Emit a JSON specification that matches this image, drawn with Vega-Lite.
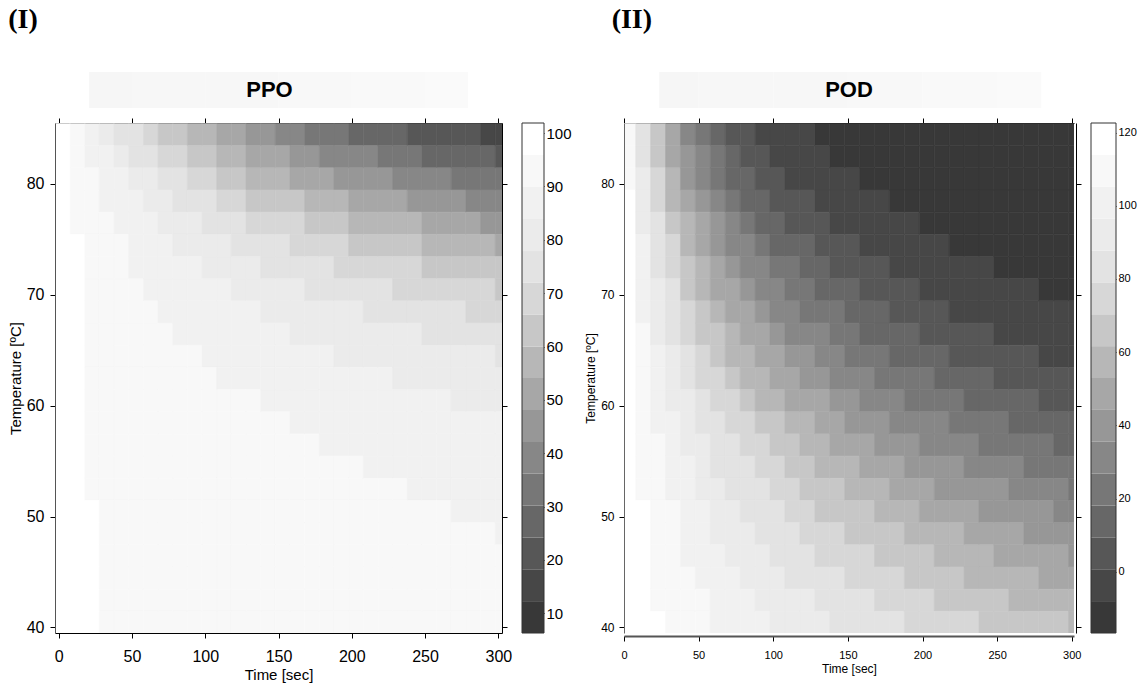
{
 "$schema": "https://vega.github.io/schema/vega-lite/v6.json",
 "background": "white",
 "padding": {"left": 8, "top": 6, "right": 5, "bottom": 5},
 "config": {"font": "Liberation Sans", "view": {"stroke": null}, "axis": {"grid": false, "labelColor": "black", "titleColor": "black", "tickColor": "black", "domainColor": "black", "titleFontWeight": "normal", "labelFlush": false, "labelOverlap": false}},
 "datasets": {
  "grid": [
{"s":2.5,"c":84.5,"ppo":98.5,"pod":111.8},{"s":12.5,"c":84.5,"ppo":92.8,"pod":83.8},{"s":22.5,"c":84.5,"ppo":87.4,"pod":62.0},{"s":32.5,"c":84.5,"ppo":82.3,"pod":45.1},{"s":42.5,"c":84.5,"ppo":77.6,"pod":31.9},{"s":52.5,"c":84.5,"ppo":73.1,"pod":21.7},{"s":62.5,"c":84.5,"ppo":68.9,"pod":13.7},{"s":72.5,"c":84.5,"ppo":64.9,"pod":7.5},{"s":82.5,"c":84.5,"ppo":61.1,"pod":2.7},{"s":92.5,"c":84.5,"ppo":57.6,"pod":-1.0},{"s":102.5,"c":84.5,"ppo":54.3,"pod":-3.9},{"s":112.5,"c":84.5,"ppo":51.1,"pod":-6.1},{"s":122.5,"c":84.5,"ppo":48.2,"pod":-7.9},{"s":132.5,"c":84.5,"ppo":45.4,"pod":-9.3},{"s":142.5,"c":84.5,"ppo":42.8,"pod":-10.3},{"s":152.5,"c":84.5,"ppo":40.3,"pod":-11.1},{"s":162.5,"c":84.5,"ppo":38.0,"pod":-11.8},{"s":172.5,"c":84.5,"ppo":35.8,"pod":-12.3},{"s":182.5,"c":84.5,"ppo":33.7,"pod":-12.7},{"s":192.5,"c":84.5,"ppo":31.7,"pod":-13.0},{"s":202.5,"c":84.5,"ppo":29.9,"pod":-13.2},{"s":212.5,"c":84.5,"ppo":28.2,"pod":-13.4},{"s":222.5,"c":84.5,"ppo":26.6,"pod":-13.5},{"s":232.5,"c":84.5,"ppo":25.0,"pod":-13.6},{"s":242.5,"c":84.5,"ppo":23.6,"pod":-13.7},{"s":252.5,"c":84.5,"ppo":22.2,"pod":-13.8},{"s":262.5,"c":84.5,"ppo":20.9,"pod":-13.8},{"s":272.5,"c":84.5,"ppo":19.7,"pod":-13.9},{"s":282.5,"c":84.5,"ppo":18.6,"pod":-13.9},{"s":292.5,"c":84.5,"ppo":17.5,"pod":-13.9},{"s":302.5,"c":84.5,"ppo":16.5,"pod":-13.9},
{"s":2.5,"c":82.5,"ppo":98.7,"pod":112.7},{"s":12.5,"c":82.5,"ppo":93.9,"pod":87.2},{"s":22.5,"c":82.5,"ppo":89.4,"pod":66.9},{"s":32.5,"c":82.5,"ppo":85.2,"pod":50.6},{"s":42.5,"c":82.5,"ppo":81.3,"pod":37.6},{"s":52.5,"c":82.5,"ppo":77.5,"pod":27.2},{"s":62.5,"c":82.5,"ppo":73.9,"pod":19.0},{"s":72.5,"c":82.5,"ppo":70.5,"pod":12.3},{"s":82.5,"c":82.5,"ppo":67.2,"pod":7.0},{"s":92.5,"c":82.5,"ppo":64.1,"pod":2.8},{"s":102.5,"c":82.5,"ppo":61.1,"pod":-0.6},{"s":112.5,"c":82.5,"ppo":58.3,"pod":-3.3},{"s":122.5,"c":82.5,"ppo":55.5,"pod":-5.4},{"s":132.5,"c":82.5,"ppo":53.0,"pod":-7.2},{"s":142.5,"c":82.5,"ppo":50.5,"pod":-8.5},{"s":152.5,"c":82.5,"ppo":48.2,"pod":-9.6},{"s":162.5,"c":82.5,"ppo":45.9,"pod":-10.5},{"s":172.5,"c":82.5,"ppo":43.8,"pod":-11.2},{"s":182.5,"c":82.5,"ppo":41.8,"pod":-11.8},{"s":192.5,"c":82.5,"ppo":39.8,"pod":-12.2},{"s":202.5,"c":82.5,"ppo":38.0,"pod":-12.6},{"s":212.5,"c":82.5,"ppo":36.2,"pod":-12.9},{"s":222.5,"c":82.5,"ppo":34.5,"pod":-13.1},{"s":232.5,"c":82.5,"ppo":32.9,"pod":-13.3},{"s":242.5,"c":82.5,"ppo":31.4,"pod":-13.4},{"s":252.5,"c":82.5,"ppo":29.9,"pod":-13.5},{"s":262.5,"c":82.5,"ppo":28.5,"pod":-13.6},{"s":272.5,"c":82.5,"ppo":27.2,"pod":-13.7},{"s":282.5,"c":82.5,"ppo":25.9,"pod":-13.8},{"s":292.5,"c":82.5,"ppo":24.7,"pod":-13.8},{"s":302.5,"c":82.5,"ppo":23.6,"pod":-13.9},
{"s":2.5,"c":80.5,"ppo":98.9,"pod":113.5},{"s":12.5,"c":80.5,"ppo":94.8,"pod":90.4},{"s":22.5,"c":80.5,"ppo":91.0,"pod":71.5},{"s":32.5,"c":80.5,"ppo":87.6,"pod":56.0},{"s":42.5,"c":80.5,"ppo":84.3,"pod":43.3},{"s":52.5,"c":80.5,"ppo":81.1,"pod":32.9},{"s":62.5,"c":80.5,"ppo":78.1,"pod":24.4},{"s":72.5,"c":80.5,"ppo":75.2,"pod":17.5},{"s":82.5,"c":80.5,"ppo":72.4,"pod":11.8},{"s":92.5,"c":80.5,"ppo":69.7,"pod":7.1},{"s":102.5,"c":80.5,"ppo":67.1,"pod":3.3},{"s":112.5,"c":80.5,"ppo":64.6,"pod":0.2},{"s":122.5,"c":80.5,"ppo":62.2,"pod":-2.4},{"s":132.5,"c":80.5,"ppo":59.8,"pod":-4.5},{"s":142.5,"c":80.5,"ppo":57.6,"pod":-6.2},{"s":152.5,"c":80.5,"ppo":55.5,"pod":-7.6},{"s":162.5,"c":80.5,"ppo":53.4,"pod":-8.8},{"s":172.5,"c":80.5,"ppo":51.4,"pod":-9.7},{"s":182.5,"c":80.5,"ppo":49.5,"pod":-10.5},{"s":192.5,"c":80.5,"ppo":47.6,"pod":-11.1},{"s":202.5,"c":80.5,"ppo":45.8,"pod":-11.7},{"s":212.5,"c":80.5,"ppo":44.1,"pod":-12.1},{"s":222.5,"c":80.5,"ppo":42.5,"pod":-12.4},{"s":232.5,"c":80.5,"ppo":40.9,"pod":-12.7},{"s":242.5,"c":80.5,"ppo":39.4,"pod":-12.9},{"s":252.5,"c":80.5,"ppo":37.9,"pod":-13.1},{"s":262.5,"c":80.5,"ppo":36.5,"pod":-13.3},{"s":272.5,"c":80.5,"ppo":35.1,"pod":-13.4},{"s":282.5,"c":80.5,"ppo":33.8,"pod":-13.5},{"s":292.5,"c":80.5,"ppo":32.5,"pod":-13.6},{"s":302.5,"c":80.5,"ppo":31.3,"pod":-13.7},
{"s":2.5,"c":78.5,"ppo":99.0,"pod":114.2},{"s":12.5,"c":78.5,"ppo":95.4,"pod":93.3},{"s":22.5,"c":78.5,"ppo":92.3,"pod":75.8},{"s":32.5,"c":78.5,"ppo":89.4,"pod":61.2},{"s":42.5,"c":78.5,"ppo":86.7,"pod":48.9},{"s":52.5,"c":78.5,"ppo":84.1,"pod":38.7},{"s":62.5,"c":78.5,"ppo":81.6,"pod":30.1},{"s":72.5,"c":78.5,"ppo":79.1,"pod":22.9},{"s":82.5,"c":78.5,"ppo":76.7,"pod":16.9},{"s":92.5,"c":78.5,"ppo":74.4,"pod":11.8},{"s":102.5,"c":78.5,"ppo":72.2,"pod":7.6},{"s":112.5,"c":78.5,"ppo":70.0,"pod":4.1},{"s":122.5,"c":78.5,"ppo":67.9,"pod":1.2},{"s":132.5,"c":78.5,"ppo":65.9,"pod":-1.3},{"s":142.5,"c":78.5,"ppo":63.9,"pod":-3.4},{"s":152.5,"c":78.5,"ppo":62.0,"pod":-5.1},{"s":162.5,"c":78.5,"ppo":60.1,"pod":-6.6},{"s":172.5,"c":78.5,"ppo":58.3,"pod":-7.8},{"s":182.5,"c":78.5,"ppo":56.5,"pod":-8.8},{"s":192.5,"c":78.5,"ppo":54.8,"pod":-9.6},{"s":202.5,"c":78.5,"ppo":53.2,"pod":-10.3},{"s":212.5,"c":78.5,"ppo":51.6,"pod":-10.9},{"s":222.5,"c":78.5,"ppo":50.0,"pod":-11.4},{"s":232.5,"c":78.5,"ppo":48.5,"pod":-11.9},{"s":242.5,"c":78.5,"ppo":47.1,"pod":-12.2},{"s":252.5,"c":78.5,"ppo":45.7,"pod":-12.5},{"s":262.5,"c":78.5,"ppo":44.3,"pod":-12.7},{"s":272.5,"c":78.5,"ppo":43.0,"pod":-13.0},{"s":282.5,"c":78.5,"ppo":41.7,"pod":-13.1},{"s":292.5,"c":78.5,"ppo":40.4,"pod":-13.3},{"s":302.5,"c":78.5,"ppo":39.2,"pod":-13.4},
{"s":2.5,"c":76.5,"ppo":99.0,"pod":114.8},{"s":12.5,"c":76.5,"ppo":95.8,"pod":95.9},{"s":22.5,"c":76.5,"ppo":93.2,"pod":79.8},{"s":32.5,"c":76.5,"ppo":90.8,"pod":66.1},{"s":42.5,"c":76.5,"ppo":88.6,"pod":54.4},{"s":52.5,"c":76.5,"ppo":86.4,"pod":44.3},{"s":62.5,"c":76.5,"ppo":84.3,"pod":35.8},{"s":72.5,"c":76.5,"ppo":82.3,"pod":28.5},{"s":82.5,"c":76.5,"ppo":80.3,"pod":22.3},{"s":92.5,"c":76.5,"ppo":78.4,"pod":17.0},{"s":102.5,"c":76.5,"ppo":76.5,"pod":12.4},{"s":112.5,"c":76.5,"ppo":74.6,"pod":8.6},{"s":122.5,"c":76.5,"ppo":72.8,"pod":5.2},{"s":132.5,"c":76.5,"ppo":71.1,"pod":2.4},{"s":142.5,"c":76.5,"ppo":69.3,"pod":0.0},{"s":152.5,"c":76.5,"ppo":67.7,"pod":-2.0},{"s":162.5,"c":76.5,"ppo":66.0,"pod":-3.8},{"s":172.5,"c":76.5,"ppo":64.4,"pod":-5.3},{"s":182.5,"c":76.5,"ppo":62.9,"pod":-6.6},{"s":192.5,"c":76.5,"ppo":61.3,"pod":-7.6},{"s":202.5,"c":76.5,"ppo":59.9,"pod":-8.6},{"s":212.5,"c":76.5,"ppo":58.4,"pod":-9.4},{"s":222.5,"c":76.5,"ppo":57.0,"pod":-10.1},{"s":232.5,"c":76.5,"ppo":55.6,"pod":-10.6},{"s":242.5,"c":76.5,"ppo":54.3,"pod":-11.1},{"s":252.5,"c":76.5,"ppo":53.0,"pod":-11.5},{"s":262.5,"c":76.5,"ppo":51.7,"pod":-11.9},{"s":272.5,"c":76.5,"ppo":50.4,"pod":-12.2},{"s":282.5,"c":76.5,"ppo":49.2,"pod":-12.5},{"s":292.5,"c":76.5,"ppo":48.0,"pod":-12.7},{"s":302.5,"c":76.5,"ppo":46.9,"pod":-12.9},
{"s":2.5,"c":74.5,"ppo":99.1,"pod":115.4},{"s":12.5,"c":74.5,"ppo":96.1,"pod":98.3},{"s":22.5,"c":74.5,"ppo":93.9,"pod":83.6},{"s":32.5,"c":74.5,"ppo":91.9,"pod":70.7},{"s":42.5,"c":74.5,"ppo":90.0,"pod":59.6},{"s":52.5,"c":74.5,"ppo":88.3,"pod":49.9},{"s":62.5,"c":74.5,"ppo":86.5,"pod":41.5},{"s":72.5,"c":74.5,"ppo":84.8,"pod":34.2},{"s":82.5,"c":74.5,"ppo":83.2,"pod":27.9},{"s":92.5,"c":74.5,"ppo":81.5,"pod":22.4},{"s":102.5,"c":74.5,"ppo":80.0,"pod":17.6},{"s":112.5,"c":74.5,"ppo":78.4,"pod":13.4},{"s":122.5,"c":74.5,"ppo":76.9,"pod":9.8},{"s":132.5,"c":74.5,"ppo":75.4,"pod":6.7},{"s":142.5,"c":74.5,"ppo":73.9,"pod":4.0},{"s":152.5,"c":74.5,"ppo":72.4,"pod":1.6},{"s":162.5,"c":74.5,"ppo":71.0,"pod":-0.5},{"s":172.5,"c":74.5,"ppo":69.6,"pod":-2.2},{"s":182.5,"c":74.5,"ppo":68.3,"pod":-3.8},{"s":192.5,"c":74.5,"ppo":66.9,"pod":-5.1},{"s":202.5,"c":74.5,"ppo":65.6,"pod":-6.3},{"s":212.5,"c":74.5,"ppo":64.3,"pod":-7.3},{"s":222.5,"c":74.5,"ppo":63.1,"pod":-8.2},{"s":232.5,"c":74.5,"ppo":61.9,"pod":-9.0},{"s":242.5,"c":74.5,"ppo":60.6,"pod":-9.6},{"s":252.5,"c":74.5,"ppo":59.5,"pod":-10.2},{"s":262.5,"c":74.5,"ppo":58.3,"pod":-10.7},{"s":272.5,"c":74.5,"ppo":57.2,"pod":-11.1},{"s":282.5,"c":74.5,"ppo":56.0,"pod":-11.5},{"s":292.5,"c":74.5,"ppo":54.9,"pod":-11.8},{"s":302.5,"c":74.5,"ppo":53.9,"pod":-12.1},
{"s":2.5,"c":72.5,"ppo":99.1,"pod":115.9},{"s":12.5,"c":72.5,"ppo":96.3,"pod":100.5},{"s":22.5,"c":72.5,"ppo":94.3,"pod":87.0},{"s":32.5,"c":72.5,"ppo":92.7,"pod":75.1},{"s":42.5,"c":72.5,"ppo":91.1,"pod":64.6},{"s":52.5,"c":72.5,"ppo":89.7,"pod":55.3},{"s":62.5,"c":72.5,"ppo":88.2,"pod":47.1},{"s":72.5,"c":72.5,"ppo":86.8,"pod":39.9},{"s":82.5,"c":72.5,"ppo":85.5,"pod":33.6},{"s":92.5,"c":72.5,"ppo":84.1,"pod":27.9},{"s":102.5,"c":72.5,"ppo":82.8,"pod":23.0},{"s":112.5,"c":72.5,"ppo":81.5,"pod":18.6},{"s":122.5,"c":72.5,"ppo":80.2,"pod":14.8},{"s":132.5,"c":72.5,"ppo":78.9,"pod":11.4},{"s":142.5,"c":72.5,"ppo":77.7,"pod":8.4},{"s":152.5,"c":72.5,"ppo":76.4,"pod":5.7},{"s":162.5,"c":72.5,"ppo":75.2,"pod":3.4},{"s":172.5,"c":72.5,"ppo":74.0,"pod":1.4},{"s":182.5,"c":72.5,"ppo":72.9,"pod":-0.5},{"s":192.5,"c":72.5,"ppo":71.7,"pod":-2.1},{"s":202.5,"c":72.5,"ppo":70.6,"pod":-3.5},{"s":212.5,"c":72.5,"ppo":69.5,"pod":-4.7},{"s":222.5,"c":72.5,"ppo":68.4,"pod":-5.8},{"s":232.5,"c":72.5,"ppo":67.3,"pod":-6.8},{"s":242.5,"c":72.5,"ppo":66.2,"pod":-7.6},{"s":252.5,"c":72.5,"ppo":65.2,"pod":-8.4},{"s":262.5,"c":72.5,"ppo":64.1,"pod":-9.0},{"s":272.5,"c":72.5,"ppo":63.1,"pod":-9.6},{"s":282.5,"c":72.5,"ppo":62.1,"pod":-10.1},{"s":292.5,"c":72.5,"ppo":61.1,"pod":-10.6},{"s":302.5,"c":72.5,"ppo":60.2,"pod":-11.0},
{"s":2.5,"c":70.5,"ppo":99.1,"pod":116.3},{"s":12.5,"c":70.5,"ppo":96.4,"pod":102.5},{"s":22.5,"c":70.5,"ppo":94.6,"pod":90.2},{"s":32.5,"c":70.5,"ppo":93.2,"pod":79.2},{"s":42.5,"c":70.5,"ppo":92.0,"pod":69.3},{"s":52.5,"c":70.5,"ppo":90.7,"pod":60.5},{"s":62.5,"c":70.5,"ppo":89.6,"pod":52.6},{"s":72.5,"c":70.5,"ppo":88.4,"pod":45.6},{"s":82.5,"c":70.5,"ppo":87.3,"pod":39.3},{"s":92.5,"c":70.5,"ppo":86.2,"pod":33.7},{"s":102.5,"c":70.5,"ppo":85.0,"pod":28.6},{"s":112.5,"c":70.5,"ppo":84.0,"pod":24.1},{"s":122.5,"c":70.5,"ppo":82.9,"pod":20.1},{"s":132.5,"c":70.5,"ppo":81.8,"pod":16.5},{"s":142.5,"c":70.5,"ppo":80.8,"pod":13.3},{"s":152.5,"c":70.5,"ppo":79.7,"pod":10.4},{"s":162.5,"c":70.5,"ppo":78.7,"pod":7.8},{"s":172.5,"c":70.5,"ppo":77.7,"pod":5.5},{"s":182.5,"c":70.5,"ppo":76.7,"pod":3.4},{"s":192.5,"c":70.5,"ppo":75.7,"pod":1.6},{"s":202.5,"c":70.5,"ppo":74.7,"pod":-0.1},{"s":212.5,"c":70.5,"ppo":73.8,"pod":-1.5},{"s":222.5,"c":70.5,"ppo":72.8,"pod":-2.9},{"s":232.5,"c":70.5,"ppo":71.9,"pod":-4.0},{"s":242.5,"c":70.5,"ppo":70.9,"pod":-5.1},{"s":252.5,"c":70.5,"ppo":70.0,"pod":-6.0},{"s":262.5,"c":70.5,"ppo":69.1,"pod":-6.9},{"s":272.5,"c":70.5,"ppo":68.2,"pod":-7.6},{"s":282.5,"c":70.5,"ppo":67.4,"pod":-8.3},{"s":292.5,"c":70.5,"ppo":66.5,"pod":-8.9},{"s":302.5,"c":70.5,"ppo":65.6,"pod":-9.4},
{"s":2.5,"c":68.5,"ppo":99.0,"pod":116.7},{"s":12.5,"c":68.5,"ppo":96.4,"pod":104.3},{"s":22.5,"c":68.5,"ppo":94.8,"pod":93.1},{"s":32.5,"c":68.5,"ppo":93.6,"pod":83.0},{"s":42.5,"c":68.5,"ppo":92.5,"pod":73.8},{"s":52.5,"c":68.5,"ppo":91.5,"pod":65.5},{"s":62.5,"c":68.5,"ppo":90.5,"pod":57.9},{"s":72.5,"c":68.5,"ppo":89.6,"pod":51.1},{"s":82.5,"c":68.5,"ppo":88.7,"pod":45.0},{"s":92.5,"c":68.5,"ppo":87.7,"pod":39.4},{"s":102.5,"c":68.5,"ppo":86.8,"pod":34.3},{"s":112.5,"c":68.5,"ppo":85.9,"pod":29.7},{"s":122.5,"c":68.5,"ppo":85.0,"pod":25.6},{"s":132.5,"c":68.5,"ppo":84.1,"pod":21.8},{"s":142.5,"c":68.5,"ppo":83.2,"pod":18.5},{"s":152.5,"c":68.5,"ppo":82.4,"pod":15.4},{"s":162.5,"c":68.5,"ppo":81.5,"pod":12.6},{"s":172.5,"c":68.5,"ppo":80.6,"pod":10.1},{"s":182.5,"c":68.5,"ppo":79.8,"pod":7.8},{"s":192.5,"c":68.5,"ppo":79.0,"pod":5.7},{"s":202.5,"c":68.5,"ppo":78.1,"pod":3.9},{"s":212.5,"c":68.5,"ppo":77.3,"pod":2.2},{"s":222.5,"c":68.5,"ppo":76.5,"pod":0.6},{"s":232.5,"c":68.5,"ppo":75.7,"pod":-0.7},{"s":242.5,"c":68.5,"ppo":74.9,"pod":-2.0},{"s":252.5,"c":68.5,"ppo":74.1,"pod":-3.1},{"s":262.5,"c":68.5,"ppo":73.3,"pod":-4.2},{"s":272.5,"c":68.5,"ppo":72.6,"pod":-5.1},{"s":282.5,"c":68.5,"ppo":71.8,"pod":-5.9},{"s":292.5,"c":68.5,"ppo":71.1,"pod":-6.7},{"s":302.5,"c":68.5,"ppo":70.3,"pod":-7.4},
{"s":2.5,"c":66.5,"ppo":99.0,"pod":117.1},{"s":12.5,"c":66.5,"ppo":96.3,"pod":105.9},{"s":22.5,"c":66.5,"ppo":94.8,"pod":95.8},{"s":32.5,"c":66.5,"ppo":93.8,"pod":86.5},{"s":42.5,"c":66.5,"ppo":92.9,"pod":78.0},{"s":52.5,"c":66.5,"ppo":92.0,"pod":70.2},{"s":62.5,"c":66.5,"ppo":91.2,"pod":63.0},{"s":72.5,"c":66.5,"ppo":90.4,"pod":56.5},{"s":82.5,"c":66.5,"ppo":89.7,"pod":50.5},{"s":92.5,"c":66.5,"ppo":88.9,"pod":45.0},{"s":102.5,"c":66.5,"ppo":88.1,"pod":40.0},{"s":112.5,"c":66.5,"ppo":87.4,"pod":35.5},{"s":122.5,"c":66.5,"ppo":86.6,"pod":31.3},{"s":132.5,"c":66.5,"ppo":85.9,"pod":27.4},{"s":142.5,"c":66.5,"ppo":85.1,"pod":23.9},{"s":152.5,"c":66.5,"ppo":84.4,"pod":20.7},{"s":162.5,"c":66.5,"ppo":83.7,"pod":17.8},{"s":172.5,"c":66.5,"ppo":82.9,"pod":15.1},{"s":182.5,"c":66.5,"ppo":82.2,"pod":12.6},{"s":192.5,"c":66.5,"ppo":81.5,"pod":10.4},{"s":202.5,"c":66.5,"ppo":80.8,"pod":8.3},{"s":212.5,"c":66.5,"ppo":80.1,"pod":6.4},{"s":222.5,"c":66.5,"ppo":79.4,"pod":4.7},{"s":232.5,"c":66.5,"ppo":78.8,"pod":3.1},{"s":242.5,"c":66.5,"ppo":78.1,"pod":1.6},{"s":252.5,"c":66.5,"ppo":77.4,"pod":0.3},{"s":262.5,"c":66.5,"ppo":76.7,"pod":-0.9},{"s":272.5,"c":66.5,"ppo":76.1,"pod":-2.0},{"s":282.5,"c":66.5,"ppo":75.4,"pod":-3.0},{"s":292.5,"c":66.5,"ppo":74.8,"pod":-4.0},{"s":302.5,"c":66.5,"ppo":74.1,"pod":-4.8},
{"s":2.5,"c":64.5,"ppo":98.9,"pod":117.4},{"s":12.5,"c":64.5,"ppo":96.3,"pod":107.4},{"s":22.5,"c":64.5,"ppo":94.9,"pod":98.2},{"s":32.5,"c":64.5,"ppo":94.0,"pod":89.7},{"s":42.5,"c":64.5,"ppo":93.2,"pod":81.8},{"s":52.5,"c":64.5,"ppo":92.5,"pod":74.6},{"s":62.5,"c":64.5,"ppo":91.8,"pod":67.8},{"s":72.5,"c":64.5,"ppo":91.2,"pod":61.6},{"s":82.5,"c":64.5,"ppo":90.5,"pod":55.9},{"s":92.5,"c":64.5,"ppo":89.9,"pod":50.6},{"s":102.5,"c":64.5,"ppo":89.2,"pod":45.7},{"s":112.5,"c":64.5,"ppo":88.6,"pod":41.2},{"s":122.5,"c":64.5,"ppo":88.0,"pod":37.0},{"s":132.5,"c":64.5,"ppo":87.3,"pod":33.1},{"s":142.5,"c":64.5,"ppo":86.7,"pod":29.5},{"s":152.5,"c":64.5,"ppo":86.1,"pod":26.2},{"s":162.5,"c":64.5,"ppo":85.5,"pod":23.2},{"s":172.5,"c":64.5,"ppo":84.9,"pod":20.4},{"s":182.5,"c":64.5,"ppo":84.3,"pod":17.8},{"s":192.5,"c":64.5,"ppo":83.7,"pod":15.4},{"s":202.5,"c":64.5,"ppo":83.1,"pod":13.1},{"s":212.5,"c":64.5,"ppo":82.5,"pod":11.1},{"s":222.5,"c":64.5,"ppo":81.9,"pod":9.2},{"s":232.5,"c":64.5,"ppo":81.3,"pod":7.4},{"s":242.5,"c":64.5,"ppo":80.8,"pod":5.8},{"s":252.5,"c":64.5,"ppo":80.2,"pod":4.3},{"s":262.5,"c":64.5,"ppo":79.6,"pod":2.9},{"s":272.5,"c":64.5,"ppo":79.0,"pod":1.6},{"s":282.5,"c":64.5,"ppo":78.5,"pod":0.4},{"s":292.5,"c":64.5,"ppo":77.9,"pod":-0.7},{"s":302.5,"c":64.5,"ppo":77.4,"pod":-1.7},
{"s":2.5,"c":62.5,"ppo":99.0,"pod":117.7},{"s":12.5,"c":62.5,"ppo":96.4,"pod":108.7},{"s":22.5,"c":62.5,"ppo":95.2,"pod":100.4},{"s":32.5,"c":62.5,"ppo":94.3,"pod":92.7},{"s":42.5,"c":62.5,"ppo":93.7,"pod":85.4},{"s":52.5,"c":62.5,"ppo":93.1,"pod":78.7},{"s":62.5,"c":62.5,"ppo":92.5,"pod":72.4},{"s":72.5,"c":62.5,"ppo":92.0,"pod":66.5},{"s":82.5,"c":62.5,"ppo":91.4,"pod":61.1},{"s":92.5,"c":62.5,"ppo":90.9,"pod":56.0},{"s":102.5,"c":62.5,"ppo":90.3,"pod":51.2},{"s":112.5,"c":62.5,"ppo":89.8,"pod":46.8},{"s":122.5,"c":62.5,"ppo":89.3,"pod":42.7},{"s":132.5,"c":62.5,"ppo":88.8,"pod":38.8},{"s":142.5,"c":62.5,"ppo":88.2,"pod":35.3},{"s":152.5,"c":62.5,"ppo":87.7,"pod":31.9},{"s":162.5,"c":62.5,"ppo":87.2,"pod":28.8},{"s":172.5,"c":62.5,"ppo":86.7,"pod":25.9},{"s":182.5,"c":62.5,"ppo":86.2,"pod":23.2},{"s":192.5,"c":62.5,"ppo":85.6,"pod":20.7},{"s":202.5,"c":62.5,"ppo":85.1,"pod":18.3},{"s":212.5,"c":62.5,"ppo":84.6,"pod":16.1},{"s":222.5,"c":62.5,"ppo":84.1,"pod":14.1},{"s":232.5,"c":62.5,"ppo":83.6,"pod":12.2},{"s":242.5,"c":62.5,"ppo":83.1,"pod":10.4},{"s":252.5,"c":62.5,"ppo":82.7,"pod":8.8},{"s":262.5,"c":62.5,"ppo":82.2,"pod":7.2},{"s":272.5,"c":62.5,"ppo":81.7,"pod":5.8},{"s":282.5,"c":62.5,"ppo":81.2,"pod":4.4},{"s":292.5,"c":62.5,"ppo":80.7,"pod":3.2},{"s":302.5,"c":62.5,"ppo":80.2,"pod":2.0},
{"s":2.5,"c":60.5,"ppo":99.0,"pod":117.9},{"s":12.5,"c":60.5,"ppo":96.6,"pod":109.9},{"s":22.5,"c":60.5,"ppo":95.3,"pod":102.4},{"s":32.5,"c":60.5,"ppo":94.6,"pod":95.4},{"s":42.5,"c":60.5,"ppo":94.0,"pod":88.7},{"s":52.5,"c":60.5,"ppo":93.5,"pod":82.5},{"s":62.5,"c":60.5,"ppo":93.0,"pod":76.7},{"s":72.5,"c":60.5,"ppo":92.6,"pod":71.2},{"s":82.5,"c":60.5,"ppo":92.1,"pod":66.0},{"s":92.5,"c":60.5,"ppo":91.7,"pod":61.2},{"s":102.5,"c":60.5,"ppo":91.2,"pod":56.6},{"s":112.5,"c":60.5,"ppo":90.8,"pod":52.3},{"s":122.5,"c":60.5,"ppo":90.3,"pod":48.3},{"s":132.5,"c":60.5,"ppo":89.9,"pod":44.5},{"s":142.5,"c":60.5,"ppo":89.4,"pod":41.0},{"s":152.5,"c":60.5,"ppo":89.0,"pod":37.6},{"s":162.5,"c":60.5,"ppo":88.5,"pod":34.5},{"s":172.5,"c":60.5,"ppo":88.1,"pod":31.6},{"s":182.5,"c":60.5,"ppo":87.6,"pod":28.8},{"s":192.5,"c":60.5,"ppo":87.2,"pod":26.2},{"s":202.5,"c":60.5,"ppo":86.8,"pod":23.8},{"s":212.5,"c":60.5,"ppo":86.3,"pod":21.5},{"s":222.5,"c":60.5,"ppo":85.9,"pod":19.3},{"s":232.5,"c":60.5,"ppo":85.5,"pod":17.3},{"s":242.5,"c":60.5,"ppo":85.0,"pod":15.4},{"s":252.5,"c":60.5,"ppo":84.6,"pod":13.6},{"s":262.5,"c":60.5,"ppo":84.2,"pod":12.0},{"s":272.5,"c":60.5,"ppo":83.8,"pod":10.4},{"s":282.5,"c":60.5,"ppo":83.4,"pod":8.9},{"s":292.5,"c":60.5,"ppo":82.9,"pod":7.5},{"s":302.5,"c":60.5,"ppo":82.5,"pod":6.2},
{"s":2.5,"c":58.5,"ppo":99.0,"pod":118.1},{"s":12.5,"c":58.5,"ppo":96.6,"pod":111.0},{"s":22.5,"c":58.5,"ppo":95.5,"pod":104.2},{"s":32.5,"c":58.5,"ppo":94.9,"pod":97.8},{"s":42.5,"c":58.5,"ppo":94.4,"pod":91.8},{"s":52.5,"c":58.5,"ppo":93.9,"pod":86.1},{"s":62.5,"c":58.5,"ppo":93.5,"pod":80.6},{"s":72.5,"c":58.5,"ppo":93.1,"pod":75.5},{"s":82.5,"c":58.5,"ppo":92.7,"pod":70.7},{"s":92.5,"c":58.5,"ppo":92.3,"pod":66.1},{"s":102.5,"c":58.5,"ppo":91.9,"pod":61.7},{"s":112.5,"c":58.5,"ppo":91.5,"pod":57.6},{"s":122.5,"c":58.5,"ppo":91.2,"pod":53.8},{"s":132.5,"c":58.5,"ppo":90.8,"pod":50.1},{"s":142.5,"c":58.5,"ppo":90.4,"pod":46.6},{"s":152.5,"c":58.5,"ppo":90.0,"pod":43.3},{"s":162.5,"c":58.5,"ppo":89.6,"pod":40.2},{"s":172.5,"c":58.5,"ppo":89.3,"pod":37.3},{"s":182.5,"c":58.5,"ppo":88.9,"pod":34.5},{"s":192.5,"c":58.5,"ppo":88.5,"pod":31.9},{"s":202.5,"c":58.5,"ppo":88.1,"pod":29.4},{"s":212.5,"c":58.5,"ppo":87.8,"pod":27.1},{"s":222.5,"c":58.5,"ppo":87.4,"pod":24.8},{"s":232.5,"c":58.5,"ppo":87.0,"pod":22.7},{"s":242.5,"c":58.5,"ppo":86.7,"pod":20.8},{"s":252.5,"c":58.5,"ppo":86.3,"pod":18.9},{"s":262.5,"c":58.5,"ppo":85.9,"pod":17.1},{"s":272.5,"c":58.5,"ppo":85.6,"pod":15.4},{"s":282.5,"c":58.5,"ppo":85.2,"pod":13.8},{"s":292.5,"c":58.5,"ppo":84.8,"pod":12.3},{"s":302.5,"c":58.5,"ppo":84.5,"pod":10.9},
{"s":2.5,"c":56.5,"ppo":99.0,"pod":118.4},{"s":12.5,"c":56.5,"ppo":96.7,"pod":112.0},{"s":22.5,"c":56.5,"ppo":95.6,"pod":105.9},{"s":32.5,"c":56.5,"ppo":95.0,"pod":100.1},{"s":42.5,"c":56.5,"ppo":94.6,"pod":94.6},{"s":52.5,"c":56.5,"ppo":94.2,"pod":89.3},{"s":62.5,"c":56.5,"ppo":93.9,"pod":84.3},{"s":72.5,"c":56.5,"ppo":93.5,"pod":79.6},{"s":82.5,"c":56.5,"ppo":93.2,"pod":75.0},{"s":92.5,"c":56.5,"ppo":92.8,"pod":70.7},{"s":102.5,"c":56.5,"ppo":92.5,"pod":66.6},{"s":112.5,"c":56.5,"ppo":92.2,"pod":62.7},{"s":122.5,"c":56.5,"ppo":91.8,"pod":59.0},{"s":132.5,"c":56.5,"ppo":91.5,"pod":55.5},{"s":142.5,"c":56.5,"ppo":91.2,"pod":52.1},{"s":152.5,"c":56.5,"ppo":90.8,"pod":48.9},{"s":162.5,"c":56.5,"ppo":90.5,"pod":45.9},{"s":172.5,"c":56.5,"ppo":90.2,"pod":43.0},{"s":182.5,"c":56.5,"ppo":89.8,"pod":40.2},{"s":192.5,"c":56.5,"ppo":89.5,"pod":37.6},{"s":202.5,"c":56.5,"ppo":89.2,"pod":35.1},{"s":212.5,"c":56.5,"ppo":88.9,"pod":32.7},{"s":222.5,"c":56.5,"ppo":88.6,"pod":30.5},{"s":232.5,"c":56.5,"ppo":88.2,"pod":28.3},{"s":242.5,"c":56.5,"ppo":87.9,"pod":26.3},{"s":252.5,"c":56.5,"ppo":87.6,"pod":24.3},{"s":262.5,"c":56.5,"ppo":87.3,"pod":22.5},{"s":272.5,"c":56.5,"ppo":87.0,"pod":20.7},{"s":282.5,"c":56.5,"ppo":86.6,"pod":19.0},{"s":292.5,"c":56.5,"ppo":86.3,"pod":17.4},{"s":302.5,"c":56.5,"ppo":86.0,"pod":15.9},
{"s":2.5,"c":54.5,"ppo":99.0,"pod":118.5},{"s":12.5,"c":54.5,"ppo":96.8,"pod":112.8},{"s":22.5,"c":54.5,"ppo":95.7,"pod":107.3},{"s":32.5,"c":54.5,"ppo":95.2,"pod":102.1},{"s":42.5,"c":54.5,"ppo":94.8,"pod":97.1},{"s":52.5,"c":54.5,"ppo":94.4,"pod":92.3},{"s":62.5,"c":54.5,"ppo":94.1,"pod":87.7},{"s":72.5,"c":54.5,"ppo":93.8,"pod":83.3},{"s":82.5,"c":54.5,"ppo":93.5,"pod":79.1},{"s":92.5,"c":54.5,"ppo":93.2,"pod":75.1},{"s":102.5,"c":54.5,"ppo":92.9,"pod":71.2},{"s":112.5,"c":54.5,"ppo":92.7,"pod":67.6},{"s":122.5,"c":54.5,"ppo":92.4,"pod":64.0},{"s":132.5,"c":54.5,"ppo":92.1,"pod":60.7},{"s":142.5,"c":54.5,"ppo":91.8,"pod":57.5},{"s":152.5,"c":54.5,"ppo":91.5,"pod":54.4},{"s":162.5,"c":54.5,"ppo":91.2,"pod":51.4},{"s":172.5,"c":54.5,"ppo":90.9,"pod":48.6},{"s":182.5,"c":54.5,"ppo":90.6,"pod":45.9},{"s":192.5,"c":54.5,"ppo":90.3,"pod":43.3},{"s":202.5,"c":54.5,"ppo":90.1,"pod":40.8},{"s":212.5,"c":54.5,"ppo":89.8,"pod":38.5},{"s":222.5,"c":54.5,"ppo":89.5,"pod":36.2},{"s":232.5,"c":54.5,"ppo":89.2,"pod":34.0},{"s":242.5,"c":54.5,"ppo":88.9,"pod":32.0},{"s":252.5,"c":54.5,"ppo":88.7,"pod":30.0},{"s":262.5,"c":54.5,"ppo":88.4,"pod":28.1},{"s":272.5,"c":54.5,"ppo":88.1,"pod":26.3},{"s":282.5,"c":54.5,"ppo":87.8,"pod":24.5},{"s":292.5,"c":54.5,"ppo":87.5,"pod":22.9},{"s":302.5,"c":54.5,"ppo":87.3,"pod":21.3},
{"s":2.5,"c":52.5,"ppo":99.1,"pod":118.7},{"s":12.5,"c":52.5,"ppo":96.8,"pod":113.6},{"s":22.5,"c":52.5,"ppo":95.8,"pod":108.7},{"s":32.5,"c":52.5,"ppo":95.3,"pod":103.9},{"s":42.5,"c":52.5,"ppo":94.9,"pod":99.4},{"s":52.5,"c":52.5,"ppo":94.6,"pod":95.0},{"s":62.5,"c":52.5,"ppo":94.4,"pod":90.8},{"s":72.5,"c":52.5,"ppo":94.1,"pod":86.8},{"s":82.5,"c":52.5,"ppo":93.8,"pod":82.9},{"s":92.5,"c":52.5,"ppo":93.6,"pod":79.2},{"s":102.5,"c":52.5,"ppo":93.3,"pod":75.6},{"s":112.5,"c":52.5,"ppo":93.1,"pod":72.1},{"s":122.5,"c":52.5,"ppo":92.8,"pod":68.8},{"s":132.5,"c":52.5,"ppo":92.5,"pod":65.6},{"s":142.5,"c":52.5,"ppo":92.3,"pod":62.6},{"s":152.5,"c":52.5,"ppo":92.0,"pod":59.6},{"s":162.5,"c":52.5,"ppo":91.8,"pod":56.8},{"s":172.5,"c":52.5,"ppo":91.5,"pod":54.0},{"s":182.5,"c":52.5,"ppo":91.3,"pod":51.4},{"s":192.5,"c":52.5,"ppo":91.0,"pod":48.9},{"s":202.5,"c":52.5,"ppo":90.8,"pod":46.5},{"s":212.5,"c":52.5,"ppo":90.5,"pod":44.1},{"s":222.5,"c":52.5,"ppo":90.3,"pod":41.9},{"s":232.5,"c":52.5,"ppo":90.0,"pod":39.8},{"s":242.5,"c":52.5,"ppo":89.8,"pod":37.7},{"s":252.5,"c":52.5,"ppo":89.5,"pod":35.7},{"s":262.5,"c":52.5,"ppo":89.3,"pod":33.8},{"s":272.5,"c":52.5,"ppo":89.0,"pod":32.0},{"s":282.5,"c":52.5,"ppo":88.8,"pod":30.2},{"s":292.5,"c":52.5,"ppo":88.5,"pod":28.5},{"s":302.5,"c":52.5,"ppo":88.3,"pod":26.8},
{"s":2.5,"c":50.5,"ppo":99.1,"pod":118.8},{"s":12.5,"c":50.5,"ppo":96.9,"pod":114.3},{"s":22.5,"c":50.5,"ppo":95.9,"pod":109.9},{"s":32.5,"c":50.5,"ppo":95.4,"pod":105.6},{"s":42.5,"c":50.5,"ppo":95.0,"pod":101.5},{"s":52.5,"c":50.5,"ppo":94.8,"pod":97.5},{"s":62.5,"c":50.5,"ppo":94.5,"pod":93.7},{"s":72.5,"c":50.5,"ppo":94.3,"pod":90.0},{"s":82.5,"c":50.5,"ppo":94.1,"pod":86.4},{"s":92.5,"c":50.5,"ppo":93.8,"pod":83.0},{"s":102.5,"c":50.5,"ppo":93.6,"pod":79.6},{"s":112.5,"c":50.5,"ppo":93.4,"pod":76.4},{"s":122.5,"c":50.5,"ppo":93.1,"pod":73.3},{"s":132.5,"c":50.5,"ppo":92.9,"pod":70.3},{"s":142.5,"c":50.5,"ppo":92.7,"pod":67.4},{"s":152.5,"c":50.5,"ppo":92.5,"pod":64.6},{"s":162.5,"c":50.5,"ppo":92.2,"pod":61.9},{"s":172.5,"c":50.5,"ppo":92.0,"pod":59.3},{"s":182.5,"c":50.5,"ppo":91.8,"pod":56.8},{"s":192.5,"c":50.5,"ppo":91.5,"pod":54.4},{"s":202.5,"c":50.5,"ppo":91.3,"pod":52.0},{"s":212.5,"c":50.5,"ppo":91.1,"pod":49.7},{"s":222.5,"c":50.5,"ppo":90.9,"pod":47.5},{"s":232.5,"c":50.5,"ppo":90.6,"pod":45.4},{"s":242.5,"c":50.5,"ppo":90.4,"pod":43.4},{"s":252.5,"c":50.5,"ppo":90.2,"pod":41.4},{"s":262.5,"c":50.5,"ppo":90.0,"pod":39.5},{"s":272.5,"c":50.5,"ppo":89.8,"pod":37.7},{"s":282.5,"c":50.5,"ppo":89.5,"pod":35.9},{"s":292.5,"c":50.5,"ppo":89.3,"pod":34.2},{"s":302.5,"c":50.5,"ppo":89.1,"pod":32.5},
{"s":2.5,"c":48.5,"ppo":99.1,"pod":119.0},{"s":12.5,"c":48.5,"ppo":96.9,"pod":114.9},{"s":22.5,"c":48.5,"ppo":95.9,"pod":110.9},{"s":32.5,"c":48.5,"ppo":95.5,"pod":107.1},{"s":42.5,"c":48.5,"ppo":95.2,"pod":103.4},{"s":52.5,"c":48.5,"ppo":94.9,"pod":99.8},{"s":62.5,"c":48.5,"ppo":94.7,"pod":96.3},{"s":72.5,"c":48.5,"ppo":94.5,"pod":92.9},{"s":82.5,"c":48.5,"ppo":94.3,"pod":89.6},{"s":92.5,"c":48.5,"ppo":94.1,"pod":86.5},{"s":102.5,"c":48.5,"ppo":93.9,"pod":83.4},{"s":112.5,"c":48.5,"ppo":93.6,"pod":80.4},{"s":122.5,"c":48.5,"ppo":93.4,"pod":77.5},{"s":132.5,"c":48.5,"ppo":93.2,"pod":74.7},{"s":142.5,"c":48.5,"ppo":93.0,"pod":72.0},{"s":152.5,"c":48.5,"ppo":92.8,"pod":69.3},{"s":162.5,"c":48.5,"ppo":92.6,"pod":66.8},{"s":172.5,"c":48.5,"ppo":92.4,"pod":64.3},{"s":182.5,"c":48.5,"ppo":92.2,"pod":61.9},{"s":192.5,"c":48.5,"ppo":92.0,"pod":59.6},{"s":202.5,"c":48.5,"ppo":91.8,"pod":57.3},{"s":212.5,"c":48.5,"ppo":91.6,"pod":55.1},{"s":222.5,"c":48.5,"ppo":91.4,"pod":53.0},{"s":232.5,"c":48.5,"ppo":91.2,"pod":51.0},{"s":242.5,"c":48.5,"ppo":91.0,"pod":49.0},{"s":252.5,"c":48.5,"ppo":90.8,"pod":47.0},{"s":262.5,"c":48.5,"ppo":90.6,"pod":45.2},{"s":272.5,"c":48.5,"ppo":90.4,"pod":43.4},{"s":282.5,"c":48.5,"ppo":90.2,"pod":41.6},{"s":292.5,"c":48.5,"ppo":90.0,"pod":39.9},{"s":302.5,"c":48.5,"ppo":89.8,"pod":38.2},
{"s":2.5,"c":46.5,"ppo":99.1,"pod":119.1},{"s":12.5,"c":46.5,"ppo":96.9,"pod":115.4},{"s":22.5,"c":46.5,"ppo":96.0,"pod":111.9},{"s":32.5,"c":46.5,"ppo":95.5,"pod":108.4},{"s":42.5,"c":46.5,"ppo":95.2,"pod":105.1},{"s":52.5,"c":46.5,"ppo":95.0,"pod":101.8},{"s":62.5,"c":46.5,"ppo":94.8,"pod":98.7},{"s":72.5,"c":46.5,"ppo":94.6,"pod":95.6},{"s":82.5,"c":46.5,"ppo":94.4,"pod":92.6},{"s":92.5,"c":46.5,"ppo":94.2,"pod":89.7},{"s":102.5,"c":46.5,"ppo":94.0,"pod":86.8},{"s":112.5,"c":46.5,"ppo":93.9,"pod":84.1},{"s":122.5,"c":46.5,"ppo":93.7,"pod":81.4},{"s":132.5,"c":46.5,"ppo":93.5,"pod":78.8},{"s":142.5,"c":46.5,"ppo":93.3,"pod":76.3},{"s":152.5,"c":46.5,"ppo":93.1,"pod":73.8},{"s":162.5,"c":46.5,"ppo":92.9,"pod":71.4},{"s":172.5,"c":46.5,"ppo":92.7,"pod":69.1},{"s":182.5,"c":46.5,"ppo":92.5,"pod":66.8},{"s":192.5,"c":46.5,"ppo":92.3,"pod":64.6},{"s":202.5,"c":46.5,"ppo":92.1,"pod":62.4},{"s":212.5,"c":46.5,"ppo":92.0,"pod":60.3},{"s":222.5,"c":46.5,"ppo":91.8,"pod":58.3},{"s":232.5,"c":46.5,"ppo":91.6,"pod":56.3},{"s":242.5,"c":46.5,"ppo":91.4,"pod":54.4},{"s":252.5,"c":46.5,"ppo":91.2,"pod":52.5},{"s":262.5,"c":46.5,"ppo":91.0,"pod":50.7},{"s":272.5,"c":46.5,"ppo":90.8,"pod":49.0},{"s":282.5,"c":46.5,"ppo":90.6,"pod":47.2},{"s":292.5,"c":46.5,"ppo":90.4,"pod":45.6},{"s":302.5,"c":46.5,"ppo":90.3,"pod":43.9},
{"s":2.5,"c":44.5,"ppo":99.1,"pod":119.2},{"s":12.5,"c":44.5,"ppo":96.9,"pod":115.9},{"s":22.5,"c":44.5,"ppo":96.0,"pod":112.8},{"s":32.5,"c":44.5,"ppo":95.6,"pod":109.7},{"s":42.5,"c":44.5,"ppo":95.3,"pod":106.7},{"s":52.5,"c":44.5,"ppo":95.1,"pod":103.7},{"s":62.5,"c":44.5,"ppo":94.9,"pod":100.9},{"s":72.5,"c":44.5,"ppo":94.7,"pod":98.1},{"s":82.5,"c":44.5,"ppo":94.5,"pod":95.3},{"s":92.5,"c":44.5,"ppo":94.3,"pod":92.7},{"s":102.5,"c":44.5,"ppo":94.2,"pod":90.1},{"s":112.5,"c":44.5,"ppo":94.0,"pod":87.5},{"s":122.5,"c":44.5,"ppo":93.8,"pod":85.0},{"s":132.5,"c":44.5,"ppo":93.6,"pod":82.6},{"s":142.5,"c":44.5,"ppo":93.4,"pod":80.3},{"s":152.5,"c":44.5,"ppo":93.3,"pod":78.0},{"s":162.5,"c":44.5,"ppo":93.1,"pod":75.7},{"s":172.5,"c":44.5,"ppo":92.9,"pod":73.5},{"s":182.5,"c":44.5,"ppo":92.7,"pod":71.4},{"s":192.5,"c":44.5,"ppo":92.5,"pod":69.3},{"s":202.5,"c":44.5,"ppo":92.4,"pod":67.3},{"s":212.5,"c":44.5,"ppo":92.2,"pod":65.3},{"s":222.5,"c":44.5,"ppo":92.0,"pod":63.4},{"s":232.5,"c":44.5,"ppo":91.9,"pod":61.5},{"s":242.5,"c":44.5,"ppo":91.7,"pod":59.7},{"s":252.5,"c":44.5,"ppo":91.5,"pod":57.9},{"s":262.5,"c":44.5,"ppo":91.4,"pod":56.1},{"s":272.5,"c":44.5,"ppo":91.2,"pod":54.4},{"s":282.5,"c":44.5,"ppo":91.0,"pod":52.7},{"s":292.5,"c":44.5,"ppo":90.8,"pod":51.1},{"s":302.5,"c":44.5,"ppo":90.7,"pod":49.5},
{"s":2.5,"c":42.5,"ppo":99.1,"pod":119.3},{"s":12.5,"c":42.5,"ppo":96.9,"pod":116.4},{"s":22.5,"c":42.5,"ppo":96.0,"pod":113.5},{"s":32.5,"c":42.5,"ppo":95.6,"pod":110.8},{"s":42.5,"c":42.5,"ppo":95.3,"pod":108.1},{"s":52.5,"c":42.5,"ppo":95.1,"pod":105.4},{"s":62.5,"c":42.5,"ppo":94.9,"pod":102.8},{"s":72.5,"c":42.5,"ppo":94.8,"pod":100.3},{"s":82.5,"c":42.5,"ppo":94.6,"pod":97.8},{"s":92.5,"c":42.5,"ppo":94.4,"pod":95.4},{"s":102.5,"c":42.5,"ppo":94.3,"pod":93.0},{"s":112.5,"c":42.5,"ppo":94.1,"pod":90.7},{"s":122.5,"c":42.5,"ppo":93.9,"pod":88.4},{"s":132.5,"c":42.5,"ppo":93.7,"pod":86.2},{"s":142.5,"c":42.5,"ppo":93.6,"pod":84.0},{"s":152.5,"c":42.5,"ppo":93.4,"pod":81.9},{"s":162.5,"c":42.5,"ppo":93.2,"pod":79.8},{"s":172.5,"c":42.5,"ppo":93.1,"pod":77.7},{"s":182.5,"c":42.5,"ppo":92.9,"pod":75.7},{"s":192.5,"c":42.5,"ppo":92.8,"pod":73.8},{"s":202.5,"c":42.5,"ppo":92.6,"pod":71.9},{"s":212.5,"c":42.5,"ppo":92.4,"pod":70.0},{"s":222.5,"c":42.5,"ppo":92.3,"pod":68.2},{"s":232.5,"c":42.5,"ppo":92.1,"pod":66.4},{"s":242.5,"c":42.5,"ppo":92.0,"pod":64.7},{"s":252.5,"c":42.5,"ppo":91.8,"pod":62.9},{"s":262.5,"c":42.5,"ppo":91.6,"pod":61.3},{"s":272.5,"c":42.5,"ppo":91.5,"pod":59.6},{"s":282.5,"c":42.5,"ppo":91.3,"pod":58.0},{"s":292.5,"c":42.5,"ppo":91.2,"pod":56.5},{"s":302.5,"c":42.5,"ppo":91.0,"pod":54.9},
{"s":2.5,"c":40.5,"ppo":99.1,"pod":119.3},{"s":12.5,"c":40.5,"ppo":97.0,"pod":116.8},{"s":22.5,"c":40.5,"ppo":96.1,"pod":114.2},{"s":32.5,"c":40.5,"ppo":95.6,"pod":111.8},{"s":42.5,"c":40.5,"ppo":95.4,"pod":109.3},{"s":52.5,"c":40.5,"ppo":95.2,"pod":106.9},{"s":62.5,"c":40.5,"ppo":95.0,"pod":104.6},{"s":72.5,"c":40.5,"ppo":94.8,"pod":102.3},{"s":82.5,"c":40.5,"ppo":94.7,"pod":100.0},{"s":92.5,"c":40.5,"ppo":94.5,"pod":97.8},{"s":102.5,"c":40.5,"ppo":94.4,"pod":95.7},{"s":112.5,"c":40.5,"ppo":94.2,"pod":93.5},{"s":122.5,"c":40.5,"ppo":94.0,"pod":91.5},{"s":132.5,"c":40.5,"ppo":93.9,"pod":89.4},{"s":142.5,"c":40.5,"ppo":93.7,"pod":87.4},{"s":152.5,"c":40.5,"ppo":93.6,"pod":85.5},{"s":162.5,"c":40.5,"ppo":93.4,"pod":83.5},{"s":172.5,"c":40.5,"ppo":93.2,"pod":81.6},{"s":182.5,"c":40.5,"ppo":93.1,"pod":79.8},{"s":192.5,"c":40.5,"ppo":92.9,"pod":78.0},{"s":202.5,"c":40.5,"ppo":92.8,"pod":76.2},{"s":212.5,"c":40.5,"ppo":92.6,"pod":74.4},{"s":222.5,"c":40.5,"ppo":92.5,"pod":72.7},{"s":232.5,"c":40.5,"ppo":92.3,"pod":71.1},{"s":242.5,"c":40.5,"ppo":92.2,"pod":69.4},{"s":252.5,"c":40.5,"ppo":92.0,"pod":67.8},{"s":262.5,"c":40.5,"ppo":91.9,"pod":66.2},{"s":272.5,"c":40.5,"ppo":91.7,"pod":64.7},{"s":282.5,"c":40.5,"ppo":91.6,"pod":63.1},{"s":292.5,"c":40.5,"ppo":91.4,"pod":61.7},{"s":302.5,"c":40.5,"ppo":91.3,"pod":60.2}
  ],
  "cbI": [
   {"lo":6.3,"hi":12.27,"mid":9.3},{"lo":12.27,"hi":18.24,"mid":15.2},{"lo":18.24,"hi":24.2,"mid":21.2},{"lo":24.2,"hi":30.2,"mid":27.2},{"lo":30.2,"hi":36.2,"mid":33.2},{"lo":36.2,"hi":42.1,"mid":39.1},{"lo":42.1,"hi":48.1,"mid":45.1},{"lo":48.1,"hi":54.1,"mid":51.1},{"lo":54.1,"hi":60.0,"mid":57.0},{"lo":60.0,"hi":66.0,"mid":63.0},{"lo":66.0,"hi":72.0,"mid":69.0},{"lo":72.0,"hi":77.9,"mid":75.0},{"lo":77.9,"hi":83.9,"mid":80.9},{"lo":83.9,"hi":89.9,"mid":86.9},{"lo":89.9,"hi":95.9,"mid":92.9},{"lo":95.9,"hi":101.9,"mid":98.9}
  ],
  "cbII": [
   {"lo":-16.7,"hi":-7.99,"mid":-12.3},{"lo":-7.99,"hi":0.71,"mid":-3.6},{"lo":0.71,"hi":9.42,"mid":5.1},{"lo":9.42,"hi":18.12,"mid":13.8},{"lo":18.12,"hi":26.83,"mid":22.5},{"lo":26.83,"hi":35.54,"mid":31.2},{"lo":35.54,"hi":44.24,"mid":39.9},{"lo":44.24,"hi":52.95,"mid":48.6},{"lo":52.95,"hi":61.65,"mid":57.3},{"lo":61.65,"hi":70.36,"mid":66.0},{"lo":70.36,"hi":79.07,"mid":74.7},{"lo":79.07,"hi":87.77,"mid":83.4},{"lo":87.77,"hi":96.48,"mid":92.1},{"lo":96.48,"hi":105.18,"mid":100.8},{"lo":105.18,"hi":113.89,"mid":109.5},{"lo":113.89,"hi":122.6,"mid":118.2}
  ],
  "stripI": [{"lo":20.8,"hi":50,"g":1},{"lo":50,"hi":100,"g":2},{"lo":100,"hi":150,"g":3},{"lo":150,"hi":200,"g":4},{"lo":200,"hi":250,"g":5},{"lo":250,"hi":279.4,"g":6}],
  "stripII": [{"lo":23.6,"hi":50,"g":1},{"lo":50,"hi":100,"g":2},{"lo":100,"hi":150,"g":3},{"lo":150,"hi":200,"g":4},{"lo":200,"hi":250,"g":5},{"lo":250,"hi":279.5,"g":6}]
 },
 "spacing": 12,
 "resolve": {"scale": {"color": "independent", "stroke": "independent"}},
 "hconcat": [
  {
   "title": {"text": "(I)", "font": "Liberation Serif", "fontSize": 28, "fontWeight": "bold", "anchor": "start", "color": "black", "offset": 38, "dx": 0},
   "spacing": 9,
   "resolve": {"scale": {"color": "independent", "stroke": "independent"}},
   "vconcat": [
    {
     "width": 447, "height": 36,
     "layer": [
      {"data": {"name": "stripI"}, "mark": {"type": "rect"}, "encoding": {
        "x": {"field": "lo", "type": "quantitative", "axis": null, "scale": {"domain": [-2.5, 302.5], "nice": false, "zero": false}},
        "x2": {"field": "hi"},
        "color": {"field": "g", "type": "ordinal", "scale": {"range": ["#f6f6f6", "#f7f7f7", "#f7f7f7", "#f8f8f8", "#f9f9f9", "#fafafa"]}, "legend": null}}},
      {"data": {"values": [{"label": "PPO"}]}, "mark": {"type": "text", "fontSize": 22, "fontWeight": "bold", "font": "Liberation Sans", "color": "black", "dx": -9}, "encoding": {"text": {"field": "label"}}}
     ]
    },
    {
     "bounds": "flush", "spacing": 20,
     "resolve": {"scale": {"color": "independent", "stroke": "independent"}},
     "hconcat": [
      {
       "width": 447, "height": 510,
       "layer": [
        {"data": {"name": "grid"}, "mark": {"type": "rect", "clip": true, "strokeWidth": 0.6}, "encoding": {
          "x": {"field": "s", "type": "quantitative", "bin": {"extent": [-2.5, 307.5], "step": 10, "nice": false}, "scale": {"domain": [-2.5, 302.5], "nice": false, "zero": false}, "axis": {"values": [0, 50, 100, 150, 200, 250, 300], "title": "Time [sec]", "labelFontSize": 16, "titleFontSize": 15, "tickSize": 5, "labelPadding": 10, "titlePadding": 3}},
          "y": {"field": "c", "type": "quantitative", "bin": {"extent": [39.5, 85.5], "step": 2, "nice": false}, "scale": {"domain": [39.5, 85.5], "nice": false, "zero": false}, "axis": {"values": [40, 50, 60, 70, 80], "title": "Temperature [ºC]", "labelFontSize": 16, "titleFontSize": 15, "tickSize": 5, "labelPadding": 6, "titlePadding": 3, "domainColor": "#555555"}},
          "color": {"field": "ppo", "type": "quantitative", "scale": {"type": "threshold", "domain": [12.27, 18.24, 24.2, 30.2, 36.2, 42.1, 48.1, 54.1, 60.0, 66.0, 72.0, 77.9, 83.9, 89.9, 95.9], "range": ["#383838", "#474747", "#575757", "#676767", "#777777", "#878787", "#979797", "#a7a7a7", "#b7b7b7", "#c7c7c7", "#d7d7d7", "#e3e3e3", "#ebebeb", "#f1f1f1", "#f8f8f8", "#ffffff"]}, "legend": null},
          "stroke": {"field": "ppo", "type": "quantitative", "scale": {"type": "threshold", "domain": [12.27, 18.24, 24.2, 30.2, 36.2, 42.1, 48.1, 54.1, 60.0, 66.0, 72.0, 77.9, 83.9, 89.9, 95.9], "range": ["#383838", "#474747", "#575757", "#676767", "#777777", "#878787", "#979797", "#a7a7a7", "#b7b7b7", "#c7c7c7", "#d7d7d7", "#e3e3e3", "#ebebeb", "#f1f1f1", "#f8f8f8", "#ffffff"]}, "legend": null}}},
        {"data": {"values": [{"s": 0, "c": 40}]}, "mark": {"type": "point", "opacity": 0}, "encoding": {
          "x": {"field": "s", "type": "quantitative", "scale": {"domain": [-2.5, 302.5], "nice": false, "zero": false}, "axis": {"orient": "top", "values": [0, 50, 100, 150, 200, 250, 300], "labels": false, "title": null, "tickSize": 5, "domain": true}},
          "y": {"field": "c", "type": "quantitative", "scale": {"domain": [39.5, 85.5], "nice": false, "zero": false}, "axis": {"orient": "right", "values": [40, 50, 60, 70, 80], "labels": false, "title": null, "tickSize": 5, "domain": true}}}}
       ],
       "resolve": {"axis": {"x": "independent", "y": "independent"}, "scale": {"stroke": "independent"}}
      },
      {
       "width": 22, "height": 510,
       "layer": [
        {"data": {"name": "cbI"}, "mark": {"type": "rect"}, "encoding": {
          "y": {"field": "lo", "type": "quantitative", "scale": {"domain": [6.3, 101.9], "nice": false, "zero": false}, "axis": {"orient": "right", "values": [10, 20, 30, 40, 50, 60, 70, 80, 90, 100], "title": null, "labelFontSize": 15, "tickSize": -5, "labelPadding": 7, "domain": false}},
          "y2": {"field": "hi"},
          "color": {"field": "mid", "type": "quantitative", "scale": {"type": "threshold", "domain": [12.27, 18.24, 24.2, 30.2, 36.2, 42.1, 48.1, 54.1, 60.0, 66.0, 72.0, 77.9, 83.9, 89.9, 95.9], "range": ["#383838", "#474747", "#575757", "#676767", "#777777", "#878787", "#979797", "#a7a7a7", "#b7b7b7", "#c7c7c7", "#d7d7d7", "#e3e3e3", "#ebebeb", "#f1f1f1", "#f8f8f8", "#ffffff"]}, "legend": null}}},
        {"data": {"values": [{"lo": 6.3, "hi": 101.9}]}, "mark": {"type": "rect", "filled": false, "stroke": "#333333", "strokeWidth": 1}, "encoding": {"y": {"field": "lo", "type": "quantitative"}, "y2": {"field": "hi"}}}
       ]
      }
     ]
    }
   ]
  },
  {
   "title": {"text": "(II)", "font": "Liberation Serif", "fontSize": 28, "fontWeight": "bold", "anchor": "start", "color": "black", "offset": 38, "dx": 27},
   "spacing": 9,
   "resolve": {"scale": {"color": "independent", "stroke": "independent"}},
   "vconcat": [
    {
     "width": 450, "height": 36,
     "layer": [
      {"data": {"name": "stripII"}, "mark": {"type": "rect"}, "encoding": {
        "x": {"field": "lo", "type": "quantitative", "axis": null, "scale": {"domain": [0, 301.5], "nice": false, "zero": false}},
        "x2": {"field": "hi"},
        "color": {"field": "g", "type": "ordinal", "scale": {"range": ["#f6f6f6", "#f7f7f7", "#f7f7f7", "#f8f8f8", "#f9f9f9", "#fafafa"]}, "legend": null}}},
      {"data": {"values": [{"label": "POD"}]}, "mark": {"type": "text", "fontSize": 22, "fontWeight": "bold", "font": "Liberation Sans", "color": "black"}, "encoding": {"text": {"field": "label"}}}
     ]
    },
    {
     "bounds": "flush", "spacing": 17,
     "resolve": {"scale": {"color": "independent", "stroke": "independent"}},
     "hconcat": [
      {
       "width": 450, "height": 510,
       "layer": [
        {"data": {"name": "grid"}, "mark": {"type": "rect", "clip": true, "strokeWidth": 0.6}, "encoding": {
          "x": {"field": "s", "type": "quantitative", "bin": {"extent": [-2.5, 307.5], "step": 10, "nice": false}, "scale": {"domain": [0, 301.5], "nice": false, "zero": false}, "axis": {"values": [0, 50, 100, 150, 200, 250, 300], "title": "Time [sec]", "labelFontSize": 11, "titleFontSize": 12, "tickSize": 5, "labelPadding": 8, "titlePadding": 3, "offset": 3, "domainWidth": 2, "domainColor": "#555555"}},
          "y": {"field": "c", "type": "quantitative", "bin": {"extent": [39.5, 85.5], "step": 2, "nice": false}, "scale": {"domain": [39.5, 85.5], "nice": false, "zero": false}, "axis": {"values": [40, 50, 60, 70, 80], "title": "Temperature [ºC]", "labelFontSize": 12, "titleFontSize": 12, "tickSize": 5, "labelPadding": 5, "titlePadding": 3, "domainColor": "#666666"}},
          "color": {"field": "pod", "type": "quantitative", "scale": {"type": "threshold", "domain": [-7.99, 0.71, 9.42, 18.12, 26.83, 35.54, 44.24, 52.95, 61.65, 70.36, 79.07, 87.77, 96.48, 105.18, 113.89], "range": ["#383838", "#474747", "#575757", "#676767", "#777777", "#878787", "#979797", "#a7a7a7", "#b7b7b7", "#c7c7c7", "#d7d7d7", "#e3e3e3", "#ebebeb", "#f1f1f1", "#f8f8f8", "#ffffff"]}, "legend": null},
          "stroke": {"field": "pod", "type": "quantitative", "scale": {"type": "threshold", "domain": [-7.99, 0.71, 9.42, 18.12, 26.83, 35.54, 44.24, 52.95, 61.65, 70.36, 79.07, 87.77, 96.48, 105.18, 113.89], "range": ["#383838", "#474747", "#575757", "#676767", "#777777", "#878787", "#979797", "#a7a7a7", "#b7b7b7", "#c7c7c7", "#d7d7d7", "#e3e3e3", "#ebebeb", "#f1f1f1", "#f8f8f8", "#ffffff"]}, "legend": null}}},
        {"data": {"values": [{"s": 0, "c": 40}]}, "mark": {"type": "point", "opacity": 0}, "encoding": {
          "x": {"field": "s", "type": "quantitative", "scale": {"domain": [0, 301.5], "nice": false, "zero": false}, "axis": {"orient": "top", "values": [0, 50, 100, 150, 200, 250, 300], "labels": false, "title": null, "tickSize": 5, "domain": true}},
          "y": {"field": "c", "type": "quantitative", "scale": {"domain": [39.5, 85.5], "nice": false, "zero": false}, "axis": {"orient": "right", "values": [40, 50, 60, 70, 80], "labels": false, "title": null, "tickSize": 5, "domain": true, "offset": 2}}}}
       ],
       "resolve": {"axis": {"x": "independent", "y": "independent"}, "scale": {"stroke": "independent"}}
      },
      {
       "width": 25, "height": 510,
       "layer": [
        {"data": {"name": "cbII"}, "mark": {"type": "rect"}, "encoding": {
          "y": {"field": "lo", "type": "quantitative", "scale": {"domain": [-16.7, 122.6], "nice": false, "zero": false}, "axis": {"orient": "right", "values": [0, 20, 40, 60, 80, 100, 120], "title": null, "labelFontSize": 11, "tickSize": -5, "labelPadding": 7, "domain": false}},
          "y2": {"field": "hi"},
          "color": {"field": "mid", "type": "quantitative", "scale": {"type": "threshold", "domain": [-7.99, 0.71, 9.42, 18.12, 26.83, 35.54, 44.24, 52.95, 61.65, 70.36, 79.07, 87.77, 96.48, 105.18, 113.89], "range": ["#383838", "#474747", "#575757", "#676767", "#777777", "#878787", "#979797", "#a7a7a7", "#b7b7b7", "#c7c7c7", "#d7d7d7", "#e3e3e3", "#ebebeb", "#f1f1f1", "#f8f8f8", "#ffffff"]}, "legend": null}}},
        {"data": {"values": [{"lo": -16.7, "hi": 122.6}]}, "mark": {"type": "rect", "filled": false, "stroke": "#333333", "strokeWidth": 1}, "encoding": {"y": {"field": "lo", "type": "quantitative"}, "y2": {"field": "hi"}}}
       ]
      }
     ]
    }
   ]
  }
 ]
}
